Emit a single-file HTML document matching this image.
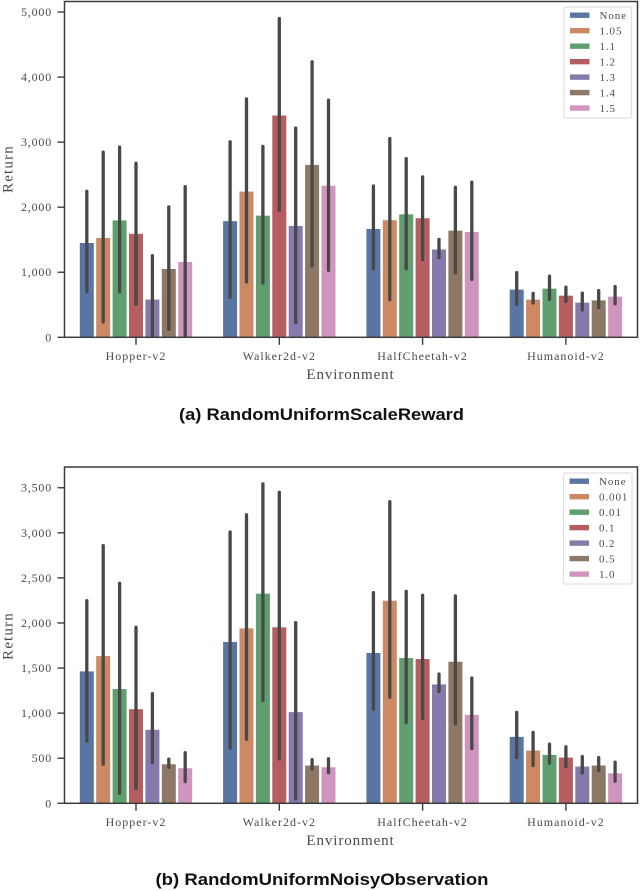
<!DOCTYPE html>
<html lang="en">
<head>
<meta charset="utf-8">
<title>RandomUniform bar charts</title>
<style>
html,body{margin:0;padding:0;background:#fff;}
svg{display:block;filter:blur(0.35px);}
text{font-family:"Liberation Serif",serif;fill:#4a4a4a;}
.caption{font-family:"Liberation Sans",sans-serif;font-weight:700;fill:#111;font-size:17px;}
</style>
</head>
<body>
<svg id="figure" xmlns="http://www.w3.org/2000/svg" width="640" height="891" viewBox="0 0 640 891"></svg>
<script>
const environments = ['Hopper-v2', 'Walker2d-v2', 'HalfCheetah-v2', 'Humanoid-v2'];
const seriesColors = ['#5975a4', '#cc8963', '#5f9e6e', '#b55d60', '#857aab', '#8d7866', '#d095bf'];

const legendLabelsA = ['None', '1.05', '1.1', '1.2', '1.3', '1.4', '1.5'];
const yTicksA = [0, 1000, 2000, 3000, 4000, 5000];
const yTickLabelsA = ['0', '1,000', '2,000', '3,000', '4,000', '5,000'];
const meansHopperA = [1450, 1527, 1797, 1590, 580, 1050, 1158];
const meansWalkerA = [1785, 2240, 1870, 3410, 1712, 2650, 2330];
const meansCheetahA = [1665, 1800, 1890, 1830, 1350, 1640, 1620];
const meansHumanoidA = [733, 579, 748, 640, 533, 568, 625];
const highsHopperA = [2270, 2870, 2950, 2700, 1280, 2030, 2340];
const highsWalkerA = [3030, 3690, 2960, 4925, 3241, 4260, 3670];
const highsCheetahA = [2350, 3080, 2770, 2490, 1530, 2330, 2410];
const highsHumanoidA = [1018, 700, 965, 795, 703, 743, 805];
const lowsHopperA = [676, 210, 676, 482, 0, 96, 0];
const lowsWalkerA = [585, 825, 810, 1930, 205, 1072, 1005];
const lowsCheetahA = [1030, 553, 1030, 1170, 1198, 967, 865];
const lowsHumanoidA = [481, 503, 558, 527, 395, 431, 491];

const legendLabelsB = ['None', '0.001', '0.01', '0.1', '0.2', '0.5', '1.0'];
const yTicksB = [0, 500, 1000, 1500, 2000, 2500, 3000, 3500];
const yTickLabelsB = ['0', '500', '1,000', '1,500', '2,000', '2,500', '3,000', '3,500'];
const meansHopperB = [1463, 1633, 1267, 1044, 815, 433, 389];
const meansWalkerB = [1790, 1940, 2325, 1952, 1011, 419, 400];
const meansCheetahB = [1667, 2247, 1611, 1600, 1319, 1570, 981];
const meansHumanoidB = [737, 585, 537, 507, 407, 419, 333];
const highsHopperB = [2265, 2875, 2458, 1970, 1234, 507, 580];
const highsWalkerB = [3027, 3218, 3560, 3467, 2022, 502, 511];
const highsCheetahB = [2354, 3363, 2369, 2325, 1452, 2318, 1407];
const highsHumanoidB = [1026, 804, 674, 644, 537, 526, 474];
const lowsHopperB = [672, 415, 93, 148, 433, 381, 222];
const lowsWalkerB = [593, 693, 1122, 474, 30, 363, 322];
const lowsCheetahB = [1026, 1159, 878, 922, 1222, 863, 589];
const lowsHumanoidB = [489, 400, 426, 389, 319, 344, 226];

const NS = 'http://www.w3.org/2000/svg';
const figure = document.getElementById('figure');

function make(parent, tag, props, content) {
  const el = document.createElementNS(NS, tag);
  for (const key in props) el.setAttribute(key, props[key]);
  if (content !== undefined) el.textContent = content;
  parent.appendChild(el);
  return el;
}

function drawPanel(p) {
  const group = make(figure, 'g', {});
  
  

  const yScale = v => p.zeroY - (v / p.yMax) * (p.zeroY - p.top);
  const xCenter = g => 136 + g * 143.3;
  const xSeries = (g, s) => xCenter(g) + (s - 3) * 16.4;
  const barWidth = 14;
  const capInset = 1.6;

  p.means.forEach((groupMeans, g) => {
    groupMeans.forEach((value, s) => {
      const bar = make(group, 'rect', {
        x: xSeries(g, s) - barWidth / 2,
        y: yScale(value),
        width: barWidth,
        height: yScale(0) - yScale(value),
        fill: seriesColors[s]
      });
      
      
    });
  });

  p.means.forEach((groupMeans, g) => {
    groupMeans.forEach((value, s) => {
      const err = make(group, 'line', {
        x1: xSeries(g, s), x2: xSeries(g, s),
        y1: yScale(p.lows[g][s]) - capInset, y2: yScale(p.highs[g][s]) + capInset,
        stroke: '#484848', 'stroke-width': 3.3, 'stroke-linecap': 'round'
      });
      
      
    });
  });

  const frame = make(group, 'rect', {
    x: 64.5, y: p.top, width: 573, height: p.zeroY - p.top,
    fill: 'none', stroke: '#3c3c3c', 'stroke-width': 1.5
  });
  
  

  p.yTicks.forEach((tick, i) => {
    const mark = make(group, 'line', {
      x1: 57.5, x2: 64.5, y1: yScale(tick), y2: yScale(tick),
      stroke: '#3c3c3c', 'stroke-width': 1.4
    });
    
    
    const label = make(group, 'text', {
      x: 52, y: yScale(tick) + 4, 'text-anchor': 'end', 'font-size': 12, 'letter-spacing': 0.8
    }, p.yTickLabels[i]);
    
    
  });

  environments.forEach((env, g) => {
    const mark = make(group, 'line', {
      x1: xCenter(g), x2: xCenter(g), y1: p.zeroY, y2: p.zeroY + 7.5,
      stroke: '#3c3c3c', 'stroke-width': 1.4
    });
    
    
    const label = make(group, 'text', {
      x: xCenter(g), y: p.zeroY + 22.5, 'text-anchor': 'middle', 'font-size': 12, 'letter-spacing': 1
    }, env);
    
    
  });

  const xTitle = make(group, 'text', {
    x: 350.5, y: p.zeroY + 41.5, 'text-anchor': 'middle', 'font-size': 15, 'letter-spacing': 0.9
  }, 'Environment');
  
  

  const yTitle = make(group, 'text', {
    x: 0, y: 0, 'text-anchor': 'middle', 'font-size': 15, 'letter-spacing': 1.2,
    transform: 'translate(12.5 ' + p.yTitleY + ') rotate(-90)'
  }, 'Return');
  
  

  const legend = make(group, 'g', {});
  
  
  const box = make(legend, 'rect', {
    x: p.legendX, y: p.legendY, width: p.legendW, height: p.legendH, rx: 2,
    fill: '#fff', stroke: '#e2e0e2', 'stroke-width': 1.2
  });
  
  
  p.legendLabels.forEach((text, s) => {
    const rowY = p.legendY + 8.2 + s * 15.48;
    const swatch = make(legend, 'rect', {
      x: p.legendX + 6, y: rowY - 2.7, width: 19.5, height: 5.4, fill: seriesColors[s]
    });
    
    
    const label = make(legend, 'text', {
      x: p.legendX + 35.5, y: rowY + 3.8, 'font-size': 11, 'letter-spacing': 0.9
    }, text);
    
    
  });

  const caption = make(figure, 'text', {
    class: 'caption', x: p.captionX, y: p.captionY,
    textLength: p.captionW, lengthAdjust: 'spacingAndGlyphs'
  }, p.caption);
  
  
}

drawPanel({
  name: 'chart-random-uniform-scale-reward',
  top: 1.5, zeroY: 337.3, yMax: 5162,
  means: [meansHopperA, meansWalkerA, meansCheetahA, meansHumanoidA],
  highs: [highsHopperA, highsWalkerA, highsCheetahA, highsHumanoidA],
  lows: [lowsHopperA, lowsWalkerA, lowsCheetahA, lowsHumanoidA],
  yTicks: yTicksA, yTickLabels: yTickLabelsA, legendLabels: legendLabelsA,
  yTitleY: 169,
  legendX: 564, legendY: 7, legendW: 67.5, legendH: 111,
  caption: '(a) RandomUniformScaleReward',
  captionX: 179, captionY: 420, captionW: 285
});

drawPanel({
  name: 'chart-random-uniform-noisy-observation',
  top: 467, zeroY: 803.3, yMax: 3730,
  means: [meansHopperB, meansWalkerB, meansCheetahB, meansHumanoidB],
  highs: [highsHopperB, highsWalkerB, highsCheetahB, highsHumanoidB],
  lows: [lowsHopperB, lowsWalkerB, lowsCheetahB, lowsHumanoidB],
  yTicks: yTicksB, yTickLabels: yTickLabelsB, legendLabels: legendLabelsB,
  yTitleY: 636,
  legendX: 563.5, legendY: 473, legendW: 68.5, legendH: 111,
  caption: '(b) RandomUniformNoisyObservation',
  captionX: 155.5, captionY: 885, captionW: 333
});
</script>
</body>
</html>
